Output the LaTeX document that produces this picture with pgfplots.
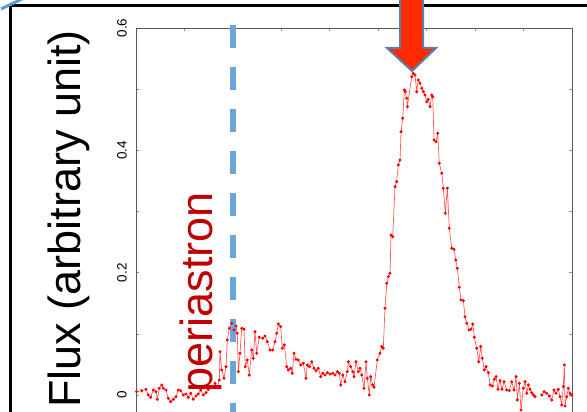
\documentclass[border=0pt]{standalone}
\usepackage{fontspec}
\setmainfont{Liberation Sans}
\usepackage{pgfplots}
\pgfplotsset{compat=1.18}
\definecolor{fluxred}{HTML}{FF0000}
\definecolor{periblue}{HTML}{6CA6D9}
\definecolor{arrowred}{HTML}{FF2A00}
\definecolor{arrowedge}{HTML}{5A7FA3}
\definecolor{labelred}{HTML}{C00000}
\definecolor{cornerblue}{HTML}{5B9BD5}
\newcommand{\tl}[1]{{\fontsize{13.5bp}{15bp}\selectfont #1}}

\begin{document}
\begin{tikzpicture}
\useasboundingbox (0,0) rectangle (587bp,412bp);
\clip (0,0) rectangle (587bp,412bp);
% slide frame
\draw[line width=3bp] (10bp,-5bp) -- (10bp,406bp) -- (600bp,406bp);
\draw[line width=3bp, cornerblue] (1bp,403bp) -- (24bp,414bp);
\node[rotate=90, anchor=base, inner sep=0pt, font=\fontsize{45bp}{50bp}\selectfont]
  at (80bp,193bp) {Flux (arbitrary unit)};
\node[rotate=90, anchor=base, inner sep=0pt, text=labelred, font=\fontsize{45bp}{50bp}\selectfont]
  at (212bp,120bp) {periastron};

\begin{axis}[
  at={(136bp,-10bp)}, anchor=south west,
  scale only axis,
  width=436bp, height=394bp,
  xmin=0, xmax=9,
  ymin=-0.0442, ymax=0.6,
  xtick={0,1,2,3,4,5,6,7,8,9},
  xticklabels={},
  ytick={0,0.1,0.2,0.3,0.4,0.5,0.6},
  yticklabels={\tl{0},,\tl{0.2},,\tl{0.4},,\tl{0.6}},
  /pgf/number format/assume math mode=true,
  yticklabel style={rotate=90, anchor=south, inner sep=0pt},
  yticklabel shift=9bp,
  tick align=inside,
  major tick length=3bp,
  tick style={draw=black!45, line width=0.6bp},
  axis line style={draw=black!65, line width=0.8bp},
  unbounded coords=jump,
  clip=false
]
\addplot[fluxred, line width=0.7bp, draw opacity=0.65, mark=*, mark size=1.15bp,
  mark options={draw opacity=1, fill=fluxred, draw=fluxred}]
coordinates {
(0.014,0.0054) (0.118,0.0070) (0.206,0.0093) (0.254,0.0000) (0.303,-0.0038)
(0.357,0.0082) (0.413,0.0054) (0.440,-0.0070) (0.481,0.0110) (0.531,0.0164)
(0.564,0.0110) (0.619,0.0082) (0.667,-0.0054) (0.716,-0.0110) (0.770,-0.0070)
(0.826,-0.0028) (0.873,0.0082) (0.923,0.0070) (0.976,0.0000) (1.032,0.0016)
(1.080,-0.0038) (1.129,0.0028) (1.183,-0.0070) (1.239,-0.0016) (1.286,0.0016)
(1.336,0.0082) (1.389,0.0000) (1.445,0.0038) (1.493,0.0093) (1.563,0.0126)
(1.631,0.0191) (1.678,0.0126) (1.720,0.0245) (1.734,0.0708) (1.769,0.0409)
(1.817,0.0273) (1.858,0.0463) (1.885,0.0899) (1.926,0.1091) (1.976,0.1172)
(2.023,0.1063) (2.064,0.1128) (2.091,0.1009) (2.112,0.0381) (2.147,0.0682)
(2.182,0.1091) (2.230,0.1074) (2.256,0.0463) (2.298,0.0572) (2.339,0.0327)
(2.389,0.0736) (2.422,0.0600) (2.457,0.1035) (2.492,0.0682) (2.545,0.0943)
(2.616,0.0927) (2.663,0.0965) (2.711,0.0871) (2.766,0.0736) (2.822,0.0736)
(2.870,0.0871) (2.905,0.1009) (2.938,0.1161) (2.987,0.1117) (3.020,0.0764)
(3.062,0.0818) (3.111,0.0463) (3.144,0.0409) (3.194,0.0437) (3.227,0.0355)
(3.262,0.0682) (3.303,0.0584) (3.351,0.0572) (3.400,0.0491) (3.454,0.0518)
(3.510,0.0273) (3.536,0.0491) (3.578,0.0463) (3.627,0.0544) (3.675,0.0437)
(3.716,0.0397) (3.763,0.0437) (3.813,0.0299) (3.854,0.0355) (3.902,0.0327)
(3.949,0.0365) (4.005,0.0343) (4.061,0.0355) (4.108,0.0327) (4.156,0.0381)
(4.197,0.0355) (4.226,0.0164) (4.267,0.0327) (4.315,0.0217) (4.362,0.0381)
(4.383,0.0544) (4.432,0.0463) (4.474,0.0381) (4.500,0.0299) (4.541,0.0544)
(4.589,0.0381) (4.624,0.0437) (4.659,0.0327) (4.707,0.0110) (4.748,0.0544)
(4.775,0.0273) (4.816,0.0000) (4.845,0.0299) (4.886,0.0164) (4.913,0.0126)
(4.981,0.0572) (5.037,0.0682) (5.072,0.0790) (5.105,0.0764) (5.140,0.1418)
(5.176,0.1826) (5.209,0.1934) (5.244,0.1990) (5.264,0.2616) (5.299,0.2588)
(5.347,0.3406) (5.382,0.3488) (5.415,0.3761) (5.450,0.3842) (5.471,0.4305)
(5.506,0.4524) (5.539,0.4987) (5.559,0.4959) (5.588,0.4851) (5.601,0.4714)
(5.692,0.5204) (5.725,0.5260) (5.760,0.5232) (5.795,0.4959) (5.828,0.5150)
(5.863,0.5096) (5.898,0.5015) (5.931,0.4959) (5.966,0.4905) (6.001,0.4795)
(6.034,0.4835) (6.069,0.4714) (6.104,0.4905) (6.125,0.4877) (6.152,0.4169)
(6.193,0.4141) (6.228,0.4279) (6.261,0.3788) (6.311,0.3625) (6.344,0.3380)
(6.385,0.2971) (6.427,0.3380) (6.468,0.2726) (6.518,0.2399) (6.565,0.2382)
(6.600,0.2207) (6.633,0.2072) (6.674,0.1761) (6.709,0.1553) (6.757,0.1542)
(6.792,0.1280) (6.827,0.1172) (6.875,0.1063) (6.916,0.1074) (6.951,0.1161)
(6.984,0.0943) (7.033,0.0764) (7.075,0.0544) (7.116,0.0790) (7.149,0.0600)
(7.190,0.0409) (7.225,0.0463) (7.273,0.0365) (7.308,0.0164) (7.356,0.0147)
(7.397,0.0257) (7.432,0.0299) (7.473,0.0093) (7.514,0.0234) (7.556,0.0093)
(7.597,0.0217) (7.653,0.0082) (7.707,0.0070) (7.756,0.0217) (7.804,0.0082)
(7.845,0.0299) (7.872,-0.0082) (7.913,0.0191) (7.948,-0.0245) (7.996,0.0110)
(8.031,0.0217) (8.066,0.0028) (8.099,0.0164) (8.134,0.0093) (8.169,0.0038)
(8.202,0.0000) (8.237,-0.0028) (8.300,nan)
(8.375,0.0000) (8.423,0.0054) (8.479,0.0028) (8.532,-0.0016) (8.582,-0.0082)
(8.630,0.0082) (8.671,0.0028) (8.718,0.0093) (8.753,-0.0028) (8.788,-0.0164)
(8.821,0.0136) (8.842,0.0491) (8.856,-0.0180) (8.891,-0.0028) (8.924,0.0110)
(8.959,0.0028) (8.994,0.0000)
};
\draw[periblue, line width=6bp, dash pattern=on 23bp off 19bp]
  (axis cs:2,0.605) -- (axis cs:2,-0.06);
\end{axis}

% arrow marking the peak
\draw[fill=arrowred, draw=arrowedge, line width=2bp, line join=miter]
  (400bp,420bp) -- (400bp,364bp) -- (387bp,364bp) -- (412bp,341bp)
  -- (436bp,364bp) -- (423bp,364bp) -- (423bp,420bp) -- cycle;
\end{tikzpicture}
\end{document}
